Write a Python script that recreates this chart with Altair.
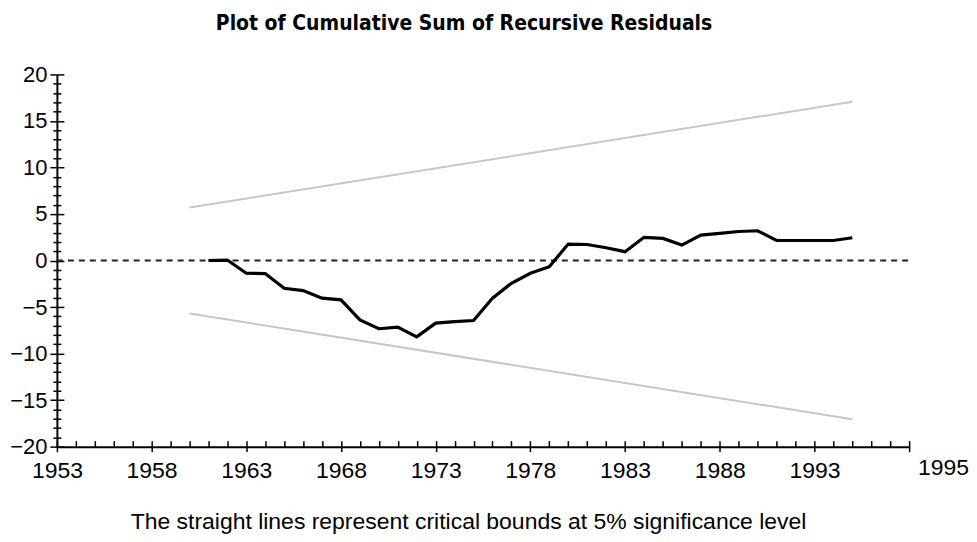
import altair as alt
import pandas as pd

# ---- data ----
years = list(range(1961, 1996))
cusum = [0.0, 0.05, -1.37, -1.40, -2.98, -3.23, -4.05, -4.23, -6.38, -7.33,
         -7.16, -8.20, -6.73, -6.56, -6.45, -4.05, -2.44, -1.37, -0.66, 1.77,
         1.72, 1.37, 0.95, 2.49, 2.38, 1.66, 2.73, 2.91, 3.12, 3.20,
         2.15, 2.15, 2.15, 2.15, 2.45]

bound_years = [1960, 1995]
upper_bound = [5.69, 17.06]
lower_bound = [-5.69, -17.06]

zero_years = [1953, 1998]
zero_values = [0, 0]

x_major = [1953, 1958, 1963, 1968, 1973, 1978, 1983, 1988, 1993, 1998]
x_minor = list(range(1953, 1999))
y_ticks = list(range(-20, 21))
end_label = "1995"

title_text = "Plot of Cumulative Sum of Recursive Residuals"
caption_text = "The straight lines represent critical bounds at 5% significance level"

# ---- tables ----
cusum_df = pd.DataFrame({"year": years, "value": cusum})
bounds_df = pd.DataFrame({
    "year": bound_years + bound_years,
    "value": upper_bound + lower_bound,
    "series": ["upper"] * len(bound_years) + ["lower"] * len(bound_years),
})
zero_df = pd.DataFrame({"year": zero_years, "value": zero_values})

W, H = 854, 373
FONT = "Liberation Sans"
COND = "DejaVu Sans Condensed, Liberation Sans"

xscale = alt.Scale(domain=[1953, 1998], nice=False, zero=False)
yscale = alt.Scale(domain=[-20, 20], nice=False, zero=False)

major_y = {"condition": {"test": "datum.value % 5 === 0", "value": 7}, "value": 4}

bounds = alt.Chart(bounds_df).mark_line(color="#c6c6c6", strokeWidth=2).encode(
    x=alt.X("year:Q", scale=xscale, axis=alt.Axis(
        orient="bottom", values=x_major, tickSize=5, tickColor="black", tickWidth=1.5,
        domainColor="black", domainWidth=2, grid=False,
        labelExpr=f"datum.value == 1998 ? '{end_label}' : format(datum.value, 'd')",
        labelOffset={"condition": {"test": "datum.value == 1998", "value": 34}, "value": 0},
        labelPadding={"condition": {"test": "datum.value == 1998", "value": 5}, "value": 8},
        labelFont=FONT, labelFontSize=23, labelColor="black", labelFlush=False,
        labelOverlap=False,
        title=caption_text, titleFont=FONT, titleFontSize=23, titleFontWeight="normal",
        titleColor="black", titlePadding=28, titleX=412, titleAlign="center")),
    y=alt.Y("value:Q", scale=yscale, axis=alt.Axis(
        orient="left", values=y_ticks, tickSize=major_y, tickColor="black", tickWidth=1.5,
        domainColor="black", domainWidth=2, grid=False,
        labelExpr="datum.value % 5 === 0 ? format(datum.value, 'd') : ''",
        labelFont=FONT, labelFontSize=22, labelColor="black", labelPadding=3,
        labelFlush=False, labelOverlap=False, title=None)),
    detail="series:N",
)

zero = alt.Chart(zero_df).mark_line(color="#222222", strokeWidth=2, strokeDash=[6, 5]).encode(
    x=alt.X("year:Q", scale=xscale, axis=alt.Axis(
        orient="top", offset=-H, values=x_minor, tickSize=6, tickColor="black",
        tickWidth=1.5, labels=False, domain=False, grid=False, title=None)),
    y=alt.Y("value:Q", scale=yscale, axis=alt.Axis(
        orient="right", offset=-W, values=y_ticks, tickSize=major_y, tickColor="black",
        tickWidth=1.5, labels=False, domain=False, grid=False, title=None)),
)

line = alt.Chart(cusum_df).mark_line(color="black", strokeWidth=3.2).encode(
    x=alt.X("year:Q", scale=xscale, axis=None),
    y=alt.Y("value:Q", scale=yscale, axis=None),
)

chart = alt.layer(bounds, zero, line).resolve_axis(
    x="independent", y="independent"
).properties(
    width=W, height=H,
    title=alt.TitleParams(title_text, font=COND, fontSize=21,
                          fontWeight="bold", color="black", anchor="middle",
                          frame="group", dx=-19, offset=30),
    autosize=alt.AutoSizeParams(type="none"),
    padding={"left": 49, "top": 66, "right": 60, "bottom": 87},
).configure(background="white").configure_view(stroke=None)

chart.save("out.html", embed_options={"renderer": "svg", "actions": False})
